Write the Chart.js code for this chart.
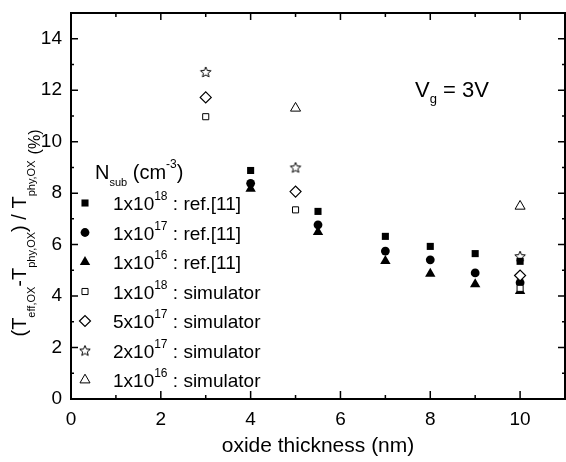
<!DOCTYPE html>
<html>
<head>
<meta charset="utf-8">
<script src="https://cdn.jsdelivr.net/npm/chart.js@4/dist/chart.umd.min.js"></script>
<style>
  html, body { margin: 0; padding: 0; background: #fff; }
  #wrap { width: 566px; height: 462px; }
</style>
</head>
<body>
<div id="wrap"><canvas id="c" width="566" height="462"></canvas></div>
<script>
"use strict";

// thickness (nm) where the reference [11] values were measured
var refThickness = [4, 5.5, 7, 8, 9, 10];
var ref1e18 = [8.88, 7.29, 6.32, 5.93, 5.65, 5.35];
var ref1e17 = [8.38, 6.77, 5.75, 5.41, 4.90, 4.52];
var ref1e16 = [8.17, 6.49, 5.36, 4.87, 4.46, 4.20];

// simulator runs
var simThickness = [3, 5, 10];
var sim1e18 = [10.97, 7.35, 4.30];
var sim5e17 = [11.72, 8.06, 4.80];
var sim2e17 = [12.71, 9.00, 5.55];
var sim1e16Thickness = [5, 10];
var sim1e16 = [11.30, 7.49];

var legendBase = ['1x10', '1x10', '1x10', '1x10', '5x10', '2x10', '1x10'];
var legendExp = ['18', '17', '16', '18', '17', '17', '16'];
var legendTail = [' : ref.[11]', ' : ref.[11]', ' : ref.[11]', ' : simulator', ' : simulator', ' : simulator', ' : simulator'];

var xTickValues = [0, 2, 4, 6, 8, 10];
var yTickValues = [0, 2, 4, 6, 8, 10, 12, 14];

var FONT = '"Liberation Sans", Arial, Helvetica, sans-serif';

function pts(xs, ys) {
  return xs.map(function(x, i) { return { x: x, y: ys[i] }; });
}

function makeStar(r) {
  var c = document.createElement('canvas');
  var s = Math.ceil(r * 2 + 3);
  c.width = s; c.height = s;
  var g = c.getContext('2d');
  g.translate(s / 2, s / 2 + 0.5);
  g.beginPath();
  for (var i = 0; i < 10; i++) {
    var a = -Math.PI / 2 + i * Math.PI / 5;
    var rr = i % 2 ? r * 0.45 : r;
    g.lineTo(rr * Math.cos(a), rr * Math.sin(a));
  }
  g.closePath();
  g.fillStyle = '#fff'; g.fill();
  g.lineWidth = 1; g.strokeStyle = '#000'; g.stroke();
  return c;
}

var starImg = makeStar(5.5);

function series(data, style, radius, filled, bw) {
  return {
    data: data,
    showLine: false,
    pointStyle: style,
    pointRadius: radius,
    pointHoverRadius: radius,
    pointBackgroundColor: filled ? '#000' : '#fff',
    pointBorderColor: '#000',
    pointBorderWidth: bw
  };
}

var datasets = [
  series(pts(simThickness, sim1e18), 'rect', 4.3, false, 1),
  series(pts(simThickness, sim5e17), 'rectRot', 5.5, false, 1.2),
  series(pts(sim1e16Thickness, sim1e16), 'triangle', 5.8, false, 1),
  series(pts(refThickness, ref1e16), 'triangle', 6, true, 0),
  series(pts(refThickness, ref1e17), 'circle', 4.4, true, 0),
  series(pts(refThickness, ref1e18), 'rect', 5, true, 0),
  series(pts(simThickness, sim2e17), starImg, 6, false, 1)
];
// legend order -> dataset index
var legendOrder = [5, 4, 3, 0, 1, 6, 2];

function drawPieces(ctx, pieces, x, y) {
  var cx = x;
  pieces.forEach(function(p) {
    ctx.font = p.f + 'px ' + FONT;
    ctx.fillText(p.t, cx, y + (p.dy || 0));
    cx += ctx.measureText(p.t).width;
  });
  return cx - x;
}

function piecesWidth(ctx, pieces) {
  var w = 0;
  pieces.forEach(function(p) {
    ctx.font = p.f + 'px ' + FONT;
    w += ctx.measureText(p.t).width;
  });
  return w;
}

function marker(ctx, ds, x, y) {
  ctx.save();
  ctx.fillStyle = ds.pointBackgroundColor;
  ctx.strokeStyle = ds.pointBorderColor;
  ctx.lineWidth = ds.pointBorderWidth;
  Chart.helpers.drawPoint(ctx, {
    pointStyle: ds.pointStyle,
    radius: ds.pointRadius,
    rotation: 0,
    borderWidth: ds.pointBorderWidth
  }, x, y);
  ctx.restore();
}

var decorations = {
  id: 'decorations',
  afterDraw: function(chart) {
    var ctx = chart.ctx;
    var a = chart.chartArea;
    var xs = chart.scales.x, ys = chart.scales.y;
    ctx.save();
    ctx.strokeStyle = '#000';
    ctx.fillStyle = '#000';

    // frame
    ctx.lineWidth = 2;
    ctx.strokeRect(a.left, a.top, a.right - a.left, a.bottom - a.top);

    // inward ticks
    ctx.lineWidth = 1.5;
    ctx.beginPath();
    for (var v = 1; v <= 10; v++) {
      var px = xs.getPixelForValue(v);
      var len = v % 2 ? 4 : 8;
      ctx.moveTo(px, a.bottom); ctx.lineTo(px, a.bottom - len);
      ctx.moveTo(px, a.top); ctx.lineTo(px, a.top + (v % 2 ? 4 : 7));
    }
    for (var w = 1; w <= 14; w++) {
      var py = ys.getPixelForValue(w);
      var l2 = w % 2 ? 3 : 7;
      ctx.moveTo(a.left, py); ctx.lineTo(a.left + l2, py);
      ctx.moveTo(a.right, py); ctx.lineTo(a.right - l2, py);
    }
    ctx.stroke();

    ctx.textBaseline = 'alphabetic';
    ctx.textAlign = 'left';

    // y axis title, rotated, with subscripts
    var yTitle = [
      { t: '(T', f: 20 }, { t: 'eff,OX', f: 11, dy: 9 },
      { t: '-T', f: 20 }, { t: 'phy,OX', f: 11, dy: 9 },
      { t: ') / T', f: 20 }, { t: 'phy,OX', f: 11, dy: 9 },
      { t: '  ', f: 11 }, { t: '(%)', f: 16, dy: 14 }
    ];
    var tw = piecesWidth(ctx, yTitle);
    ctx.save();
    ctx.translate(26, 233);
    ctx.rotate(-Math.PI / 2);
    drawPieces(ctx, yTitle, -tw / 2, 0);
    ctx.restore();

    // Vg annotation
    drawPieces(ctx, [
      { t: 'V', f: 22 }, { t: 'g', f: 13, dy: 6 }, { t: ' = 3V', f: 22 }
    ], 415, 97);

    // legend
    drawPieces(ctx, [
      { t: 'N', f: 20 }, { t: 'sub', f: 11, dy: 7 }, { t: ' (cm', f: 20 },
      { t: '-3', f: 12, dy: -11 }, { t: ')', f: 20 }
    ], 95, 179);
    legendOrder.forEach(function(di, i) {
      var base = 210 + i * 29.5;
      marker(ctx, chart.data.datasets[di], 85, base - 7);
      drawPieces(ctx, [
        { t: legendBase[i], f: 19 }, { t: legendExp[i], f: 12, dy: -10 },
        { t: legendTail[i], f: 19 }
      ], 113, base);
    });
    ctx.restore();
  }
};

new Chart(document.getElementById('c'), {
  type: 'scatter',
  data: { datasets: datasets },
  options: {
    responsive: false,
    animation: false,
    events: [],
    layout: { autoPadding: false, padding: { top: 13, right: 1, left: 0, bottom: 0 } },
    plugins: { legend: { display: false }, tooltip: { enabled: false } },
    scales: {
      x: {
        type: 'linear', min: 0, max: 11,
        afterFit: function(s) { s.height = 63; s.paddingLeft = 0; s.paddingRight = 0; },
        afterBuildTicks: function(s) { s.ticks = xTickValues.map(function(v) { return { value: v }; }); },
        grid: { display: false, drawTicks: false },
        border: { display: false },
        ticks: { color: '#000', padding: 9, maxRotation: 0, font: { size: 19, family: FONT } },
        title: {
          display: true, text: 'oxide thickness (nm)', color: '#000',
          font: { size: 21, family: FONT }, padding: { top: 0, bottom: 3 }
        }
      },
      y: {
        type: 'linear', min: 0, max: 15,
        afterFit: function(s) { s.width = 71; s.paddingTop = 0; s.paddingBottom = 0; },
        afterBuildTicks: function(s) { s.ticks = yTickValues.map(function(v) { return { value: v }; }); },
        grid: { display: false, drawTicks: false },
        border: { display: false },
        ticks: { color: '#000', padding: 9, font: { size: 19, family: FONT } }
      }
    }
  },
  plugins: [decorations]
});
</script>
</body>
</html>
